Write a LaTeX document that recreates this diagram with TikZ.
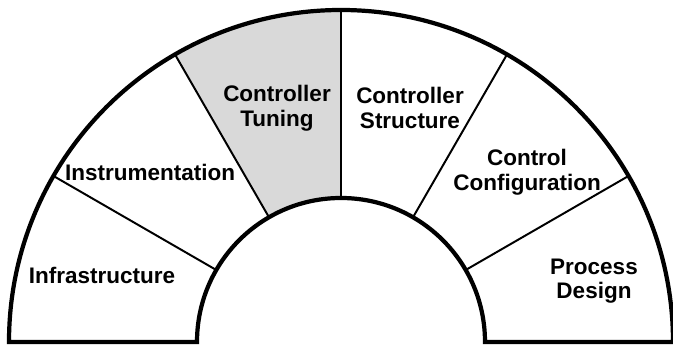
\documentclass[tikz,border=0pt]{standalone}
\usepackage{fontspec}
\setmainfont{Liberation Sans}
\usepackage{tikz}
\usetikzlibrary{calc}

\begin{document}
\begin{tikzpicture}[
    x=0.025cm,y=0.025cm,
    rim/.style={line width=3pt,line join=miter},
    divider/.style={line width=1.4pt},
    label text/.style={font=\bfseries\fontsize{16}{17.5}\selectfont,align=center,inner sep=0pt}
  ]
  \useasboundingbox (0,0) rectangle (673,347);
  \def\Rout{332} \def\Rin{144}
  \colorlet{tuning}{black!15}
  \coordinate (O) at (341,5);
  % shaded sector for the tuning layer
  \fill[tuning] ($(O)+(90:\Rin)$) -- ($(O)+(90:\Rout)$)
    arc[start angle=90,end angle=120,radius=\Rout]
    -- ($(O)+(120:\Rin)$)
    arc[start angle=120,end angle=90,radius=\Rin] -- cycle;
  % radial dividers every 30 degrees
  \foreach \ang in {30,60,90,120,150}{
      \draw[divider] ($(O)+(\ang:\Rin)$) -- ($(O)+(\ang:\Rout)$);
    }
  % outer and inner half circles with the base line
  \draw[rim] ($(O)+(180:\Rout)$) arc[start angle=180,end angle=0,radius=\Rout]
    -- ($(O)+(0:\Rin)$) arc[start angle=0,end angle=180,radius=\Rin] -- cycle;
  % layer names
  \node[label text] (infra) at (102,72) {Infrastructure};
  \node[label text] (instr) at (150,175) {Instrumentation};
  \node[label text] (tune) at (277,239) {Controller\\Tuning};
  \node[label text] (struct) at (410,239) {Controller\\Structure};
  \node[label text] (config) at (527,175) {Control\\Configuration};
  \node[label text] (design) at (594,66) {Process\\Design};
\end{tikzpicture}
\end{document}
